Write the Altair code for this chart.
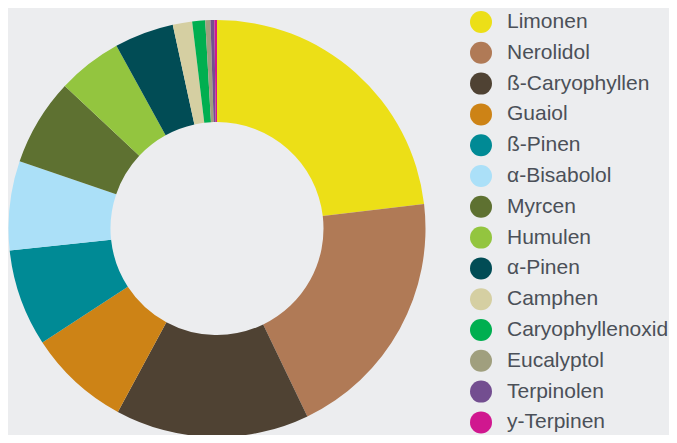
import altair as alt
import pandas as pd

names = ["Limonen", "Nerolidol", "ß-Caryophyllen", "Guaiol", "ß-Pinen",
         "α-Bisabolol", "Myrcen", "Humulen", "α-Pinen", "Camphen",
         "Caryophyllenoxid", "Eucalyptol", "Terpinolen", "y-Terpinen"]
values = [23.1, 19.7, 15.0, 7.9, 7.5, 6.9, 6.75, 5.0, 4.6, 1.5, 1.0, 0.4, 0.3, 0.2]
colors = ["#ECDF17", "#B07A56", "#4F4233", "#CD8316", "#008A95",
          "#ABE0F8", "#5E7131", "#93C53F", "#014C55", "#D5CFA2",
          "#00AF50", "#A09F7E", "#734E90", "#D0178F"]

df = pd.DataFrame({"name": names, "value": values, "idx": list(range(len(names)))})

chart = alt.Chart(df).mark_arc(outerRadius=208.5, innerRadius=106.5).encode(
    theta=alt.Theta("value:Q", stack=True),
    order=alt.Order("idx:Q"),
    color=alt.Color(
        "name:N",
        scale=alt.Scale(domain=names, range=colors),
        legend=alt.Legend(
            orient="none", legendX=462, legendY=3, title=None, padding=0,
            symbolType="circle", symbolSize=484, symbolStrokeWidth=0, symbolOpacity=1,
            labelFontSize=21, labelFont="Liberation Sans", labelColor="#4B5058",
            labelOffset=15, rowPadding=8.8, labelLimit=300,
        ),
    ),
    x=alt.value(209),
    y=alt.value(220.5),
).properties(
    width=661, height=427, padding=0,
    autosize=alt.AutoSizeParams(type="none"),
    background="#ECEDEF",
).configure_view(stroke=None)

chart.save("out.html", embed_options={"renderer": "svg", "actions": False})
